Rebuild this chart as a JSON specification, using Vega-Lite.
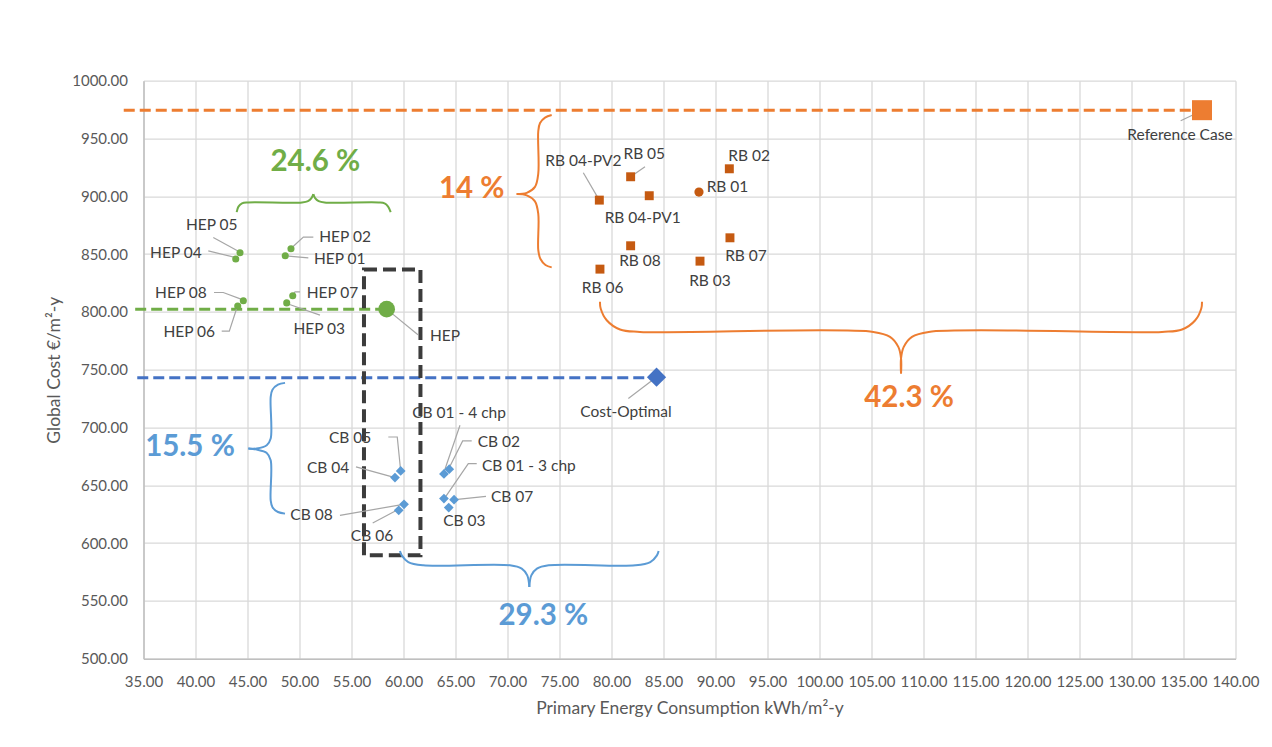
{
  "$schema": "https://vega.github.io/schema/vega-lite/v6.json",
  "width": 1092,
  "height": 578,
  "autosize": {"type": "none"},
  "padding": {"left": 143.5, "top": 80.7, "right": 36.5, "bottom": 88.3},
  "background": "white",
  "config": {
    "view": {"stroke": null},
    "font": "Lato",
    "axis": {
      "grid": true,
      "gridColor": "#d9d9d9",
      "gridWidth": 1.3,
      "domainColor": "#bfbfbf",
      "domainWidth": 1.5,
      "ticks": false,
      "labelPadding": 16,
      "labelFontSize": 15,
      "labelColor": "#595959",
      "labelOverlap": false,
      "labelFlush": false,
      "labelBound": false,
      "titleFontSize": 17.5,
      "titleFontWeight": "normal",
      "titleColor": "#595959"
    }
  },
  "datasets": {
    "cases": [
      {"name": "HEP 01", "group": "HEP variant", "energy": 48.63, "cost": 848.5},
      {"name": "HEP 02", "group": "HEP variant", "energy": 49.18, "cost": 854.6},
      {"name": "HEP 03", "group": "HEP variant", "energy": 48.77, "cost": 807.8},
      {"name": "HEP 04", "group": "HEP variant", "energy": 43.87, "cost": 845.7},
      {"name": "HEP 05", "group": "HEP variant", "energy": 44.28, "cost": 851.1},
      {"name": "HEP 06", "group": "HEP variant", "energy": 44.06, "cost": 805.0},
      {"name": "HEP 07", "group": "HEP variant", "energy": 49.35, "cost": 813.9},
      {"name": "HEP 08", "group": "HEP variant", "energy": 44.60, "cost": 809.6},
      {"name": "HEP", "group": "HEP", "energy": 58.38, "cost": 802.4},
      {"name": "CB 01 - 3 chp", "group": "CB variant", "energy": 63.89, "cost": 638.5},
      {"name": "CB 01 - 4 chp", "group": "CB variant", "energy": 63.89, "cost": 659.8},
      {"name": "CB 02", "group": "CB variant", "energy": 64.40, "cost": 663.9},
      {"name": "CB 03", "group": "CB variant", "energy": 64.35, "cost": 630.7},
      {"name": "CB 04", "group": "CB variant", "energy": 59.18, "cost": 656.7},
      {"name": "CB 05", "group": "CB variant", "energy": 59.73, "cost": 662.4},
      {"name": "CB 06", "group": "CB variant", "energy": 59.54, "cost": 628.4},
      {"name": "CB 07", "group": "CB variant", "energy": 64.86, "cost": 637.6},
      {"name": "CB 08", "group": "CB variant", "energy": 60.05, "cost": 633.6},
      {"name": "Cost-Optimal", "group": "Cost-Optimal", "energy": 84.33, "cost": 743.5},
      {"name": "RB 01", "group": "RB variant", "energy": 88.41, "cost": 903.7},
      {"name": "RB 02", "group": "RB variant", "energy": 91.33, "cost": 923.8},
      {"name": "RB 03", "group": "RB variant", "energy": 88.51, "cost": 843.9},
      {"name": "RB 04-PV1", "group": "RB variant", "energy": 83.63, "cost": 900.5},
      {"name": "RB 04-PV2", "group": "RB variant", "energy": 78.83, "cost": 896.7},
      {"name": "RB 05", "group": "RB variant", "energy": 81.84, "cost": 916.9},
      {"name": "RB 06", "group": "RB variant", "energy": 78.89, "cost": 837.0},
      {"name": "RB 07", "group": "RB variant", "energy": 91.39, "cost": 864.1},
      {"name": "RB 08", "group": "RB variant", "energy": 81.84, "cost": 857.2},
      {"name": "Reference Case", "group": "Reference Case", "energy": 136.78, "cost": 974.5}
    ],
    "labelsEnd": [
      {"name": "HEP 04", "energy": 40.60, "cost": 851.1},
      {"name": "HEP 08", "energy": 41.08, "cost": 816.5},
      {"name": "HEP 06", "energy": 41.88, "cost": 782.7},
      {"name": "CB 04", "energy": 54.79, "cost": 665.3},
      {"name": "CB 08", "energy": 53.19, "cost": 624.0}
    ],
    "labelsStart": [
      {"name": "HEP 02", "energy": 51.90, "cost": 864.4},
      {"name": "HEP 01", "energy": 51.39, "cost": 845.4},
      {"name": "HEP 07", "energy": 50.69, "cost": 816.5},
      {"name": "HEP", "energy": 62.55, "cost": 779.0},
      {"name": "CB 02", "energy": 67.13, "cost": 687.5},
      {"name": "CB 01 - 3 chp", "energy": 67.55, "cost": 666.7},
      {"name": "CB 07", "energy": 68.41, "cost": 639.9},
      {"name": "RB 01", "energy": 89.15, "cost": 908.2},
      {"name": "RB 02", "energy": 91.23, "cost": 934.8}
    ],
    "labelsMiddle": [
      {"name": "HEP 05", "energy": 41.56, "cost": 875.1},
      {"name": "HEP 03", "energy": 51.90, "cost": 785.1},
      {"name": "Cost-Optimal", "energy": 81.39, "cost": 713.2},
      {"name": "Reference Case", "energy": 134.66, "cost": 953.0},
      {"name": "CB 05", "energy": 54.86, "cost": 691.3},
      {"name": "CB 01 - 4 chp", "energy": 65.34, "cost": 712.9},
      {"name": "CB 03", "energy": 65.85, "cost": 618.9},
      {"name": "CB 06", "energy": 56.97, "cost": 606.1},
      {"name": "RB 04-PV2", "energy": 77.29, "cost": 930.7},
      {"name": "RB 05", "energy": 83.15, "cost": 936.5},
      {"name": "RB 04-PV1", "energy": 83.00, "cost": 880.9},
      {"name": "RB 07", "energy": 92.93, "cost": 848.3},
      {"name": "RB 08", "energy": 82.74, "cost": 843.9},
      {"name": "RB 03", "energy": 89.47, "cost": 826.9},
      {"name": "RB 06", "energy": 79.15, "cost": 820.8}
    ],
    "leaders": [
      {"name": "HEP 05", "seq": 1, "energy": 41.71, "cost": 864.4},
      {"name": "HEP 05", "seq": 2, "energy": 44.21, "cost": 852.0},
      {"name": "HEP 04", "seq": 1, "energy": 41.23, "cost": 852.8},
      {"name": "HEP 04", "seq": 2, "energy": 43.80, "cost": 847.1},
      {"name": "HEP 02", "seq": 1, "energy": 51.33, "cost": 864.7},
      {"name": "HEP 02", "seq": 2, "energy": 50.37, "cost": 864.7},
      {"name": "HEP 02", "seq": 3, "energy": 49.15, "cost": 854.6},
      {"name": "HEP 01", "seq": 1, "energy": 50.85, "cost": 846.8},
      {"name": "HEP 01", "seq": 2, "energy": 48.92, "cost": 848.3},
      {"name": "HEP 08", "seq": 1, "energy": 41.78, "cost": 816.8},
      {"name": "HEP 08", "seq": 2, "energy": 42.67, "cost": 816.8},
      {"name": "HEP 08", "seq": 3, "energy": 44.44, "cost": 810.8},
      {"name": "HEP 06", "seq": 1, "energy": 42.52, "cost": 783.3},
      {"name": "HEP 06", "seq": 2, "energy": 43.25, "cost": 783.3},
      {"name": "HEP 06", "seq": 3, "energy": 44.06, "cost": 805.8},
      {"name": "HEP 07", "seq": 1, "energy": 50.05, "cost": 817.3},
      {"name": "HEP 07", "seq": 2, "energy": 49.57, "cost": 817.3},
      {"name": "HEP 07", "seq": 3, "energy": 49.25, "cost": 813.9},
      {"name": "HEP 03", "seq": 1, "energy": 51.97, "cost": 797.2},
      {"name": "HEP 03", "seq": 2, "energy": 48.77, "cost": 807.3},
      {"name": "HEP", "seq": 1, "energy": 61.39, "cost": 780.3},
      {"name": "HEP", "seq": 2, "energy": 58.38, "cost": 802.4},
      {"name": "Cost-Optimal", "seq": 1, "energy": 81.62, "cost": 725.1},
      {"name": "Cost-Optimal", "seq": 2, "energy": 84.02, "cost": 741.5},
      {"name": "Reference Case", "seq": 1, "energy": 134.73, "cost": 965.4},
      {"name": "Reference Case", "seq": 2, "energy": 136.75, "cost": 974.0},
      {"name": "CB 05", "seq": 1, "energy": 58.54, "cost": 691.8},
      {"name": "CB 05", "seq": 2, "energy": 59.40, "cost": 691.8},
      {"name": "CB 05", "seq": 3, "energy": 59.73, "cost": 662.4},
      {"name": "CB 04", "seq": 1, "energy": 55.43, "cost": 665.9},
      {"name": "CB 04", "seq": 2, "energy": 59.18, "cost": 656.7},
      {"name": "CB 01 - 4 chp", "seq": 1, "energy": 65.43, "cost": 701.9},
      {"name": "CB 01 - 4 chp", "seq": 2, "energy": 63.83, "cost": 659.8},
      {"name": "CB 02", "seq": 1, "energy": 66.56, "cost": 688.4},
      {"name": "CB 02", "seq": 2, "energy": 65.69, "cost": 688.4},
      {"name": "CB 02", "seq": 3, "energy": 64.31, "cost": 663.6},
      {"name": "CB 01 - 3 chp", "seq": 1, "energy": 67.04, "cost": 668.8},
      {"name": "CB 01 - 3 chp", "seq": 2, "energy": 66.23, "cost": 668.8},
      {"name": "CB 01 - 3 chp", "seq": 3, "energy": 63.99, "cost": 639.4},
      {"name": "CB 07", "seq": 1, "energy": 67.93, "cost": 640.5},
      {"name": "CB 07", "seq": 2, "energy": 64.95, "cost": 637.6},
      {"name": "CB 08", "seq": 1, "energy": 53.89, "cost": 624.0},
      {"name": "CB 08", "seq": 2, "energy": 59.98, "cost": 633.5},
      {"name": "CB 06", "seq": 1, "energy": 57.04, "cost": 617.4},
      {"name": "CB 06", "seq": 2, "energy": 59.35, "cost": 628.4},
      {"name": "RB 04-PV2", "seq": 1, "energy": 77.29, "cost": 920.4},
      {"name": "RB 04-PV2", "seq": 2, "energy": 78.73, "cost": 898.2},
      {"name": "RB 05", "seq": 1, "energy": 83.22, "cost": 925.6},
      {"name": "RB 05", "seq": 2, "energy": 81.94, "cost": 917.5}
    ],
    "targets": [
      {"case": "Reference Case", "energy": 33.1, "energyEnd": 136.78, "cost": 974.5},
      {"case": "HEP", "energy": 34.2, "energyEnd": 58.38, "cost": 802.4},
      {"case": "Cost-Optimal", "energy": 34.4, "energyEnd": 84.33, "cost": 743.0}
    ],
    "box": [
      {"energy": 56.2, "energyEnd": 61.63, "cost": 589.4, "costEnd": 836.7}
    ],
    "braces": [
      {"brace": "HEP-a", "group": "HEP", "seq": 1, "energy": 43.96, "cost": 886.3},
      {"brace": "HEP-a", "group": "HEP", "seq": 2, "energy": 44.13, "cost": 891.1},
      {"brace": "HEP-a", "group": "HEP", "seq": 3, "energy": 44.47, "cost": 893.9},
      {"brace": "HEP-a", "group": "HEP", "seq": 4, "energy": 45.05, "cost": 894.7},
      {"brace": "HEP-a", "group": "HEP", "seq": 5, "energy": 50.24, "cost": 894.7},
      {"brace": "HEP-a", "group": "HEP", "seq": 6, "energy": 50.82, "cost": 895.9},
      {"brace": "HEP-a", "group": "HEP", "seq": 7, "energy": 51.15, "cost": 898.5},
      {"brace": "HEP-a", "group": "HEP", "seq": 8, "energy": 51.33, "cost": 901.9},
      {"brace": "HEP-b", "group": "HEP", "seq": 1, "energy": 51.33, "cost": 901.9},
      {"brace": "HEP-b", "group": "HEP", "seq": 2, "energy": 51.50, "cost": 898.5},
      {"brace": "HEP-b", "group": "HEP", "seq": 3, "energy": 51.84, "cost": 895.9},
      {"brace": "HEP-b", "group": "HEP", "seq": 4, "energy": 52.41, "cost": 894.7},
      {"brace": "HEP-b", "group": "HEP", "seq": 5, "energy": 57.61, "cost": 894.7},
      {"brace": "HEP-b", "group": "HEP", "seq": 6, "energy": 58.18, "cost": 893.9},
      {"brace": "HEP-b", "group": "HEP", "seq": 7, "energy": 58.52, "cost": 891.1},
      {"brace": "HEP-b", "group": "HEP", "seq": 8, "energy": 58.77, "cost": 886.3},
      {"brace": "RB14-a", "group": "RB", "seq": 1, "energy": 74.25, "cost": 970.3},
      {"brace": "RB14-a", "group": "RB", "seq": 2, "energy": 73.61, "cost": 968.1},
      {"brace": "RB14-a", "group": "RB", "seq": 3, "energy": 73.13, "cost": 963.4},
      {"brace": "RB14-a", "group": "RB", "seq": 4, "energy": 72.96, "cost": 956.5},
      {"brace": "RB14-a", "group": "RB", "seq": 5, "energy": 72.96, "cost": 919.8},
      {"brace": "RB14-a", "group": "RB", "seq": 6, "energy": 72.64, "cost": 908.2},
      {"brace": "RB14-a", "group": "RB", "seq": 7, "energy": 71.85, "cost": 903.0},
      {"brace": "RB14-a", "group": "RB", "seq": 8, "energy": 70.88, "cost": 901.9},
      {"brace": "RB14-b", "group": "RB", "seq": 1, "energy": 70.88, "cost": 901.9},
      {"brace": "RB14-b", "group": "RB", "seq": 2, "energy": 71.85, "cost": 900.8},
      {"brace": "RB14-b", "group": "RB", "seq": 3, "energy": 72.64, "cost": 895.6},
      {"brace": "RB14-b", "group": "RB", "seq": 4, "energy": 72.96, "cost": 884.6},
      {"brace": "RB14-b", "group": "RB", "seq": 5, "energy": 72.96, "cost": 853.4},
      {"brace": "RB14-b", "group": "RB", "seq": 6, "energy": 73.17, "cost": 845.7},
      {"brace": "RB14-b", "group": "RB", "seq": 7, "energy": 73.65, "cost": 840.6},
      {"brace": "RB14-b", "group": "RB", "seq": 8, "energy": 74.25, "cost": 838.5},
      {"brace": "CB15-a", "group": "CB", "seq": 1, "energy": 48.61, "cost": 738.6},
      {"brace": "CB15-a", "group": "CB", "seq": 2, "energy": 47.93, "cost": 737.0},
      {"brace": "CB15-a", "group": "CB", "seq": 3, "energy": 47.40, "cost": 732.7},
      {"brace": "CB15-a", "group": "CB", "seq": 4, "energy": 47.23, "cost": 726.4},
      {"brace": "CB15-a", "group": "CB", "seq": 5, "energy": 47.23, "cost": 690.4},
      {"brace": "CB15-a", "group": "CB", "seq": 6, "energy": 46.85, "cost": 684.6},
      {"brace": "CB15-a", "group": "CB", "seq": 7, "energy": 45.88, "cost": 681.8},
      {"brace": "CB15-a", "group": "CB", "seq": 8, "energy": 45.08, "cost": 681.8},
      {"brace": "CB15-b", "group": "CB", "seq": 1, "energy": 45.08, "cost": 681.8},
      {"brace": "CB15-b", "group": "CB", "seq": 2, "energy": 45.88, "cost": 680.9},
      {"brace": "CB15-b", "group": "CB", "seq": 3, "energy": 46.85, "cost": 678.0},
      {"brace": "CB15-b", "group": "CB", "seq": 4, "energy": 47.23, "cost": 671.7},
      {"brace": "CB15-b", "group": "CB", "seq": 5, "energy": 47.23, "cost": 637.0},
      {"brace": "CB15-b", "group": "CB", "seq": 6, "energy": 47.40, "cost": 631.0},
      {"brace": "CB15-b", "group": "CB", "seq": 7, "energy": 47.93, "cost": 626.9},
      {"brace": "CB15-b", "group": "CB", "seq": 8, "energy": 48.61, "cost": 625.5},
      {"brace": "CB29-a", "group": "CB", "seq": 1, "energy": 59.66, "cost": 593.1},
      {"brace": "CB29-a", "group": "CB", "seq": 2, "energy": 59.83, "cost": 589.4},
      {"brace": "CB29-a", "group": "CB", "seq": 3, "energy": 60.46, "cost": 583.6},
      {"brace": "CB29-a", "group": "CB", "seq": 4, "energy": 61.90, "cost": 580.8},
      {"brace": "CB29-a", "group": "CB", "seq": 5, "energy": 70.24, "cost": 580.8},
      {"brace": "CB29-a", "group": "CB", "seq": 6, "energy": 71.37, "cost": 577.9},
      {"brace": "CB29-a", "group": "CB", "seq": 7, "energy": 71.90, "cost": 572.1},
      {"brace": "CB29-a", "group": "CB", "seq": 8, "energy": 72.10, "cost": 562.0},
      {"brace": "CB29-b", "group": "CB", "seq": 1, "energy": 72.10, "cost": 562.0},
      {"brace": "CB29-b", "group": "CB", "seq": 2, "energy": 72.29, "cost": 572.1},
      {"brace": "CB29-b", "group": "CB", "seq": 3, "energy": 72.83, "cost": 577.9},
      {"brace": "CB29-b", "group": "CB", "seq": 4, "energy": 73.95, "cost": 580.8},
      {"brace": "CB29-b", "group": "CB", "seq": 5, "energy": 82.29, "cost": 580.8},
      {"brace": "CB29-b", "group": "CB", "seq": 6, "energy": 83.73, "cost": 583.6},
      {"brace": "CB29-b", "group": "CB", "seq": 7, "energy": 84.37, "cost": 589.4},
      {"brace": "CB29-b", "group": "CB", "seq": 8, "energy": 84.53, "cost": 593.1},
      {"brace": "RB42-a", "group": "RB", "seq": 1, "energy": 78.89, "cost": 808.7},
      {"brace": "RB42-a", "group": "RB", "seq": 2, "energy": 78.96, "cost": 803.0},
      {"brace": "RB42-a", "group": "RB", "seq": 3, "energy": 79.54, "cost": 792.8},
      {"brace": "RB42-a", "group": "RB", "seq": 4, "energy": 80.82, "cost": 784.8},
      {"brace": "RB42-a", "group": "RB", "seq": 5, "energy": 82.74, "cost": 782.7},
      {"brace": "RB42-a", "group": "RB", "seq": 6, "energy": 105.17, "cost": 782.7},
      {"brace": "RB42-a", "group": "RB", "seq": 7, "energy": 106.78, "cost": 778.4},
      {"brace": "RB42-a", "group": "RB", "seq": 8, "energy": 107.58, "cost": 769.7},
      {"brace": "RB42-a", "group": "RB", "seq": 9, "energy": 107.84, "cost": 759.7},
      {"brace": "RB42-a", "group": "RB", "seq": 10, "energy": 107.84, "cost": 746.7},
      {"brace": "RB42-b", "group": "RB", "seq": 1, "energy": 107.84, "cost": 746.7},
      {"brace": "RB42-b", "group": "RB", "seq": 2, "energy": 107.84, "cost": 759.7},
      {"brace": "RB42-b", "group": "RB", "seq": 3, "energy": 108.10, "cost": 769.7},
      {"brace": "RB42-b", "group": "RB", "seq": 4, "energy": 108.89, "cost": 778.4},
      {"brace": "RB42-b", "group": "RB", "seq": 5, "energy": 110.50, "cost": 782.7},
      {"brace": "RB42-b", "group": "RB", "seq": 6, "energy": 132.93, "cost": 782.7},
      {"brace": "RB42-b", "group": "RB", "seq": 7, "energy": 134.86, "cost": 784.8},
      {"brace": "RB42-b", "group": "RB", "seq": 8, "energy": 136.13, "cost": 792.8},
      {"brace": "RB42-b", "group": "RB", "seq": 9, "energy": 136.71, "cost": 803.0},
      {"brace": "RB42-b", "group": "RB", "seq": 10, "energy": 136.78, "cost": 808.7}
    ],
    "shares": [
      {"label": "24.6 %", "group": "HEP", "energy": 51.52, "cost": 929.9},
      {"label": "14 %", "group": "RB", "energy": 66.56, "cost": 906.3},
      {"label": "15.5 %", "group": "CB", "energy": 39.47, "cost": 682.7},
      {"label": "29.3 %", "group": "CB", "energy": 73.44, "cost": 536.6},
      {"label": "42.3 %", "group": "RB", "energy": 108.61, "cost": 725.9}
    ]
  },
  "encoding": {
    "x": {
      "field": "energy",
      "type": "quantitative",
      "scale": {"domain": [35, 140], "nice": false, "zero": false},
      "axis": {
        "title": "Primary Energy Consumption kWh/m²-y",
        "values": [35, 40, 45, 50, 55, 60, 65, 70, 75, 80, 85, 90, 95, 100, 105, 110, 115, 120, 125, 130, 135, 140],
        "format": ".2f",
        "titlePadding": 10
      }
    },
    "y": {
      "field": "cost",
      "type": "quantitative",
      "scale": {"domain": [500, 1000], "nice": false, "zero": false},
      "axis": {
        "title": "Global Cost €/m²-y",
        "values": [500, 550, 600, 650, 700, 750, 800, 850, 900, 950, 1000],
        "format": ".2f",
        "titlePadding": 8
      }
    }
  },
  "layer": [
    {
      "data": {"name": "targets"},
      "mark": {"type": "rule", "strokeWidth": 3, "strokeDash": [11, 5]},
      "encoding": {
        "x2": {"field": "energyEnd"},
        "color": {
          "field": "case",
          "type": "nominal",
          "legend": null,
          "scale": {
            "domain": ["HEP", "RB", "CB", "Cost-Optimal", "Reference Case"],
            "range": ["#70ad47", "#ed7d31", "#5b9bd5", "#4472c4", "#ed7d31"]
          }
        }
      }
    },
    {
      "data": {"name": "box"},
      "mark": {"type": "rect", "filled": false, "stroke": "#3c3c3c", "strokeWidth": 4, "strokeDash": [13, 6]},
      "encoding": {
        "x2": {"field": "energyEnd"},
        "y2": {"field": "costEnd"}
      }
    },
    {
      "data": {"name": "braces"},
      "mark": {"type": "line", "interpolate": "catmull-rom", "strokeWidth": 2},
      "encoding": {
        "detail": {"field": "brace"},
        "order": {"field": "seq", "type": "quantitative"},
        "color": {
          "field": "group",
          "type": "nominal",
          "legend": null,
          "scale": {
            "domain": ["HEP", "RB", "CB", "Cost-Optimal", "Reference Case"],
            "range": ["#70ad47", "#ed7d31", "#5b9bd5", "#4472c4", "#ed7d31"]
          }
        }
      }
    },
    {
      "data": {"name": "leaders"},
      "mark": {"type": "line", "color": "#a6a6a6", "strokeWidth": 1.2},
      "encoding": {
        "detail": {"field": "name"},
        "order": {"field": "seq", "type": "quantitative"}
      }
    },
    {
      "data": {"name": "cases"},
      "transform": [{"filter": "datum.group == 'HEP variant'"}],
      "mark": {"type": "circle", "size": 50, "color": "#70ad47", "opacity": 1}
    },
    {
      "data": {"name": "cases"},
      "transform": [{"filter": "datum.group == 'HEP'"}],
      "mark": {"type": "circle", "size": 280, "color": "#70ad47", "opacity": 1}
    },
    {
      "data": {"name": "cases"},
      "transform": [{"filter": "datum.group == 'CB variant'"}],
      "mark": {"type": "point", "shape": "diamond", "filled": true, "size": 95, "color": "#5b9bd5", "opacity": 1}
    },
    {
      "data": {"name": "cases"},
      "transform": [{"filter": "datum.group == 'Cost-Optimal'"}],
      "mark": {"type": "point", "shape": "diamond", "filled": true, "size": 370, "color": "#4472c4", "opacity": 1}
    },
    {
      "data": {"name": "cases"},
      "transform": [{"filter": "datum.group == 'RB variant' && datum.name != 'RB 01'"}],
      "mark": {"type": "square", "size": 80, "color": "#c55a11", "opacity": 1}
    },
    {
      "data": {"name": "cases"},
      "transform": [{"filter": "datum.name == 'RB 01'"}],
      "mark": {"type": "circle", "size": 85, "color": "#c55a11", "opacity": 1}
    },
    {
      "data": {"name": "cases"},
      "transform": [{"filter": "datum.group == 'Reference Case'"}],
      "mark": {"type": "square", "size": 400, "color": "#ed7d31", "opacity": 1}
    },
    {
      "data": {"name": "labelsEnd"},
      "mark": {"type": "text", "align": "right", "baseline": "middle", "fontSize": 15.5, "color": "#404040"},
      "encoding": {"text": {"field": "name"}}
    },
    {
      "data": {"name": "labelsStart"},
      "mark": {"type": "text", "align": "left", "baseline": "middle", "fontSize": 15.5, "color": "#404040"},
      "encoding": {"text": {"field": "name"}}
    },
    {
      "data": {"name": "labelsMiddle"},
      "mark": {"type": "text", "align": "center", "baseline": "middle", "fontSize": 15.5, "color": "#404040"},
      "encoding": {"text": {"field": "name"}}
    },
    {
      "data": {"name": "shares"},
      "mark": {"type": "text", "align": "center", "baseline": "middle", "fontSize": 29.5, "fontWeight": "bold"},
      "encoding": {
        "text": {"field": "label"},
        "color": {
          "field": "group",
          "type": "nominal",
          "legend": null,
          "scale": {
            "domain": ["HEP", "RB", "CB", "Cost-Optimal", "Reference Case"],
            "range": ["#70ad47", "#ed7d31", "#5b9bd5", "#4472c4", "#ed7d31"]
          }
        }
      }
    }
  ]
}
